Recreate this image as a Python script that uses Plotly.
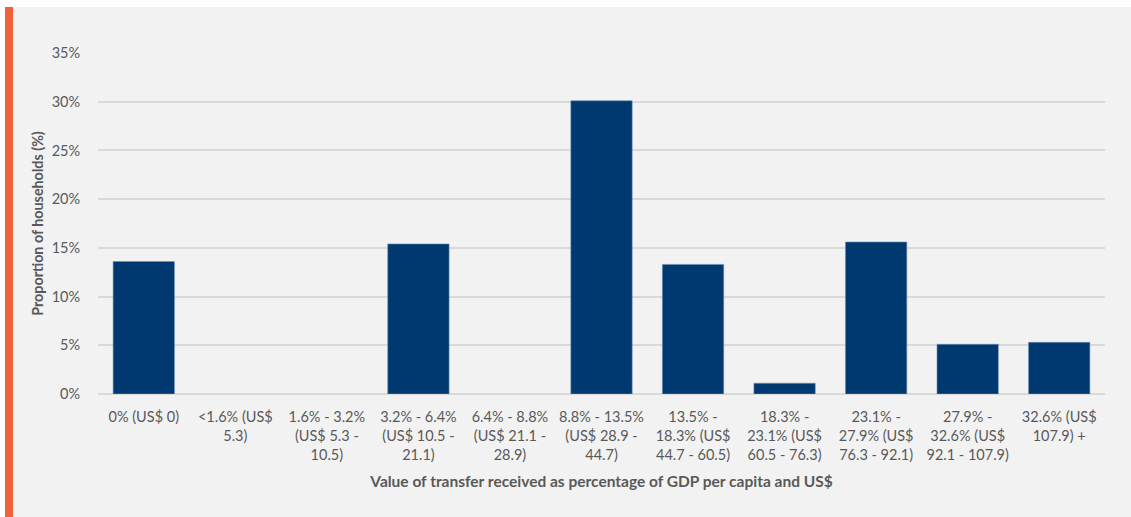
import plotly.graph_objects as go

categories = [
    "0% (US$ 0)",
    "&lt;1.6% (US$<br>5.3)",
    "1.6% - 3.2%<br>(US$ 5.3 -<br>10.5)",
    "3.2% - 6.4%<br>(US$ 10.5 -<br>21.1)",
    "6.4% - 8.8%<br>(US$ 21.1 -<br>28.9)",
    "8.8% - 13.5%<br>(US$ 28.9 -<br>44.7)",
    "13.5% -<br>18.3% (US$<br>44.7 - 60.5)",
    "18.3% -<br>23.1% (US$<br>60.5 - 76.3)",
    "23.1% -<br>27.9% (US$<br>76.3 - 92.1)",
    "27.9% -<br>32.6% (US$<br>92.1 - 107.9)",
    "32.6% (US$<br>107.9) +",
]
values = [13.6, 0, 0, 15.4, 0, 30.1, 13.3, 1.1, 15.6, 5.1, 5.3]

y_ticks = [0, 5, 10, 15, 20, 25, 30, 35]

BG = "#f2f2f2"
TXT = "#595959"
FONT = "Lato"

fig = go.Figure(go.Bar(
    x=categories, y=values,
    marker=dict(color="#003870",
                line=dict(color="#6f8fb0", width=[0.6 if v > 0 else 0 for v in values])),
))

W, H = 1131, 517
ml, mr, mt, mb = 98, 26, 53, 123
pw, ph = W - ml - mr, H - mt - mb

def px(x):
    return (x - ml) / pw

def py(y):
    return (H - mb - y) / ph

shapes = [
    dict(type="rect", xref="paper", yref="paper", x0=px(0), x1=px(W), y0=py(7), y1=py(0),
         fillcolor="white", line=dict(width=0), layer="below"),
    dict(type="rect", xref="paper", yref="paper", x0=px(0), x1=px(5), y0=py(H), y1=py(0),
         fillcolor="white", line=dict(width=0), layer="below"),
    dict(type="rect", xref="paper", yref="paper", x0=px(5), x1=px(13), y0=py(H), y1=py(7),
         fillcolor="#f2623a", line=dict(width=0), layer="below"),
]

fig.update_layout(
    width=W, height=H,
    margin=dict(l=ml, r=mr, t=mt, b=mb),
    paper_bgcolor=BG, plot_bgcolor=BG,
    font=dict(family=FONT, size=14, color=TXT),
    bargap=0.33,
    showlegend=False,
    shapes=shapes,
    xaxis=dict(
        type="category",
        tickfont=dict(family=FONT, size=14.5, color=TXT),
        ticks="outside", ticklen=10, tickcolor="rgba(0,0,0,0)",
        showgrid=False, showline=False,
        tickangle=0,
        title=dict(text="<b>Value of transfer received as percentage of GDP per capita and US$</b>",
                   font=dict(family=FONT, size=15.5, color=TXT), standoff=14),
    ),
    yaxis=dict(
        range=[0, 35],
        tickvals=y_ticks,
        ticktext=[f"{v}%" for v in y_ticks],
        tickfont=dict(family=FONT, size=14.5, color=TXT),
        ticks="outside", ticklen=14, tickcolor="rgba(0,0,0,0)",
        showgrid=True, gridcolor="#d9d9d9", gridwidth=1.5,
        zeroline=True, zerolinecolor="#d9d9d9", zerolinewidth=1.5,
        showline=False,
        title=dict(text="<b>Proportion of households (%)</b>",
                   font=dict(family=FONT, size=14.3, color=TXT), standoff=4),
    ),
)

fig.write_html("out.html", config={"displayModeBar": False},
               post_script="document.body.style.margin='0';document.body.style.overflow='hidden';")
